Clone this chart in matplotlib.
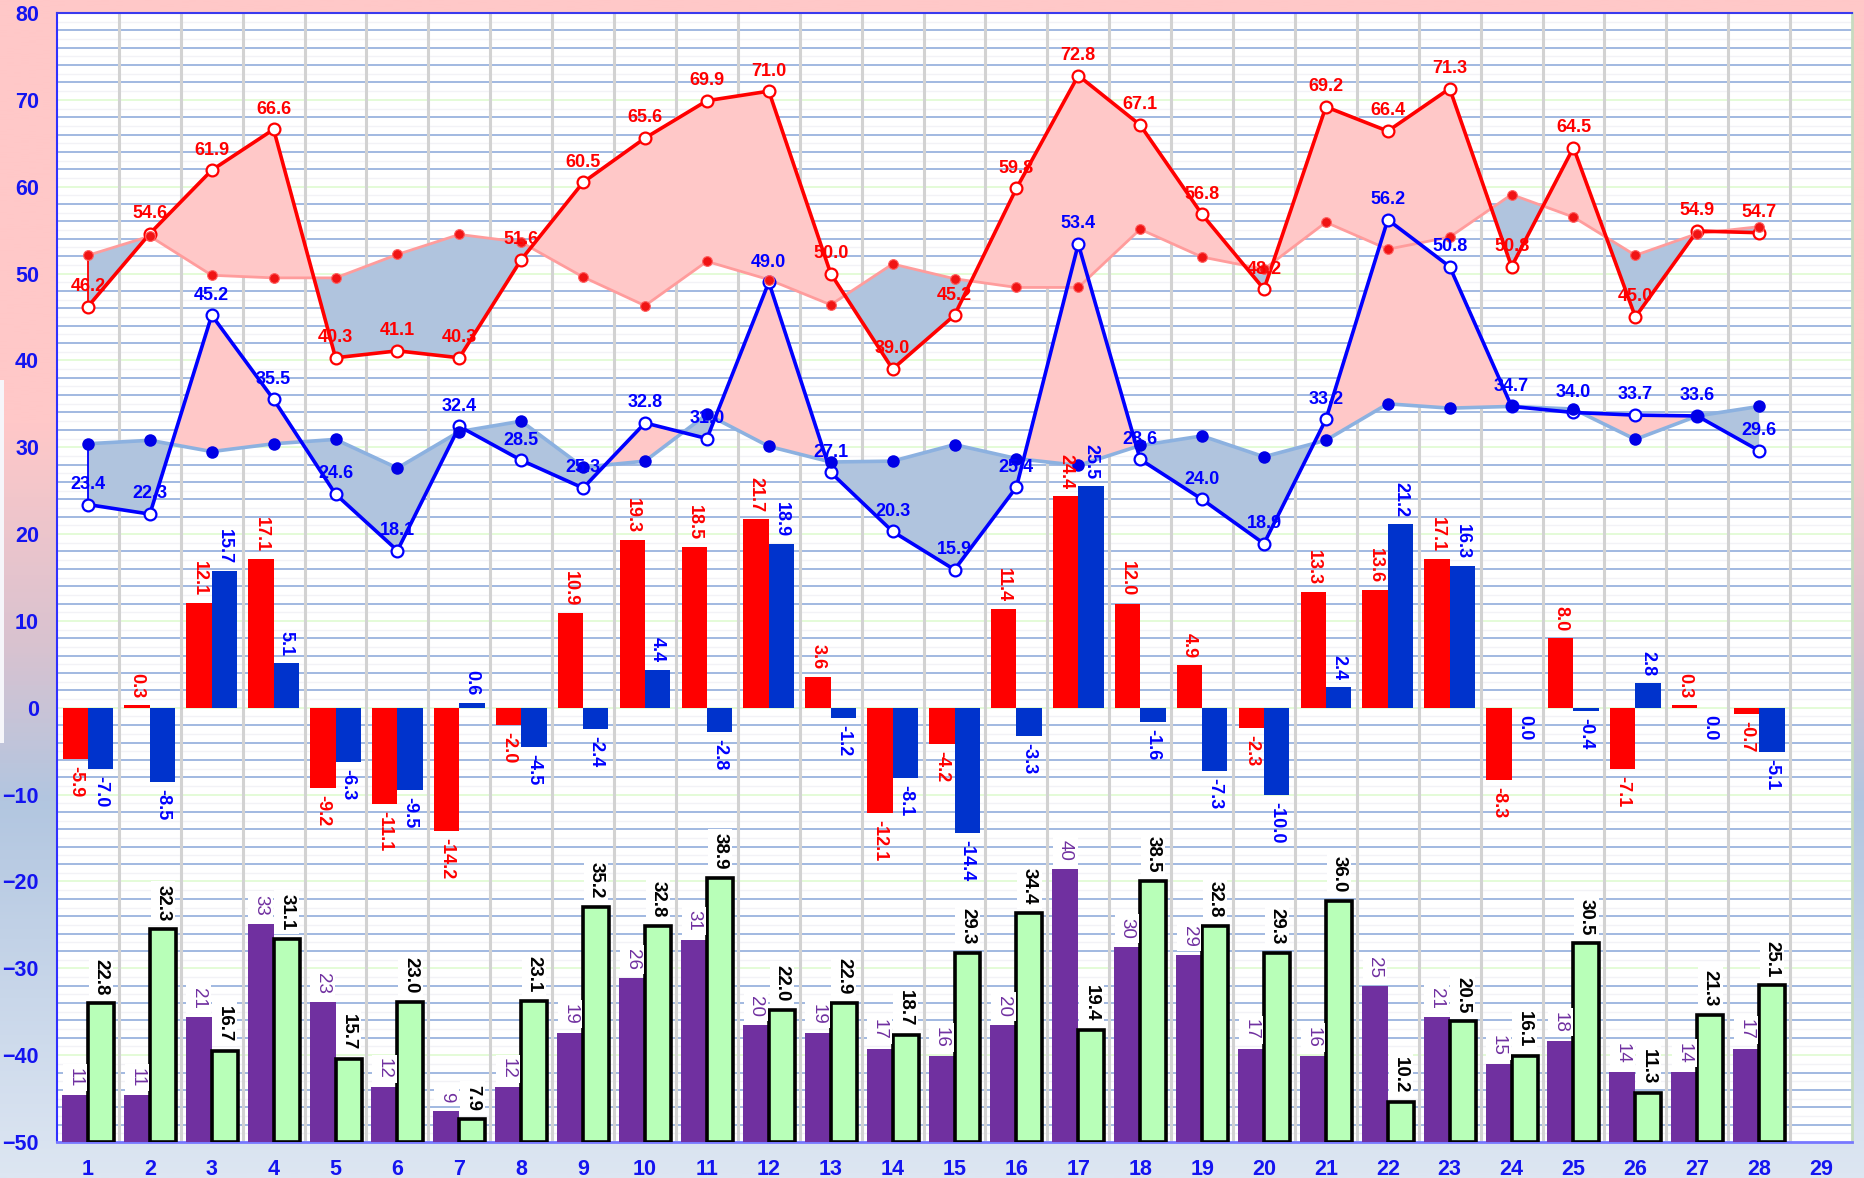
import numpy as np
import matplotlib
matplotlib.use('Agg')
import matplotlib.pyplot as plt
from matplotlib.colors import LinearSegmentedColormap
from matplotlib.patches import Rectangle

plt.rcParams['font.family'] = ['Liberation Sans', 'DejaVu Sans']

# ---------------- data ----------------
days = list(range(1, 29))
xtick_labels = [str(i) for i in range(1, 30)]

high = [46.2, 54.6, 61.9, 66.6, 40.3, 41.1, 40.3, 51.6, 60.5, 65.6, 69.9, 71.0, 50.0, 39.0,
        45.2, 59.8, 72.8, 67.1, 56.8, 48.2, 69.2, 66.4, 71.3, 50.8, 64.5, 45.0, 54.9, 54.7]
norm_high = [52.1, 54.3, 49.8, 49.5, 49.5, 52.2, 54.5, 53.6, 49.6, 46.3, 51.4, 49.3, 46.4, 51.1,
             49.4, 48.4, 48.4, 55.1, 51.9, 50.5, 55.9, 52.8, 54.2, 59.1, 56.5, 52.1, 54.6, 55.4]
low = [23.4, 22.3, 45.2, 35.5, 24.6, 18.1, 32.4, 28.5, 25.3, 32.8, 31.0, 49.0, 27.1, 20.3,
       15.9, 25.4, 53.4, 28.6, 24.0, 18.9, 33.2, 56.2, 50.8, 34.7, 34.0, 33.7, 33.6, 29.6]
norm_low = [30.4, 30.8, 29.5, 30.4, 30.9, 27.6, 31.8, 33.0, 27.7, 28.4, 33.8, 30.1, 28.3, 28.4,
            30.3, 28.7, 27.9, 30.2, 31.3, 28.9, 30.8, 35.0, 34.5, 34.7, 34.4, 30.9, 33.6, 34.7]
dep_high = [-5.9, 0.3, 12.1, 17.1, -9.2, -11.1, -14.2, -2.0, 10.9, 19.3, 18.5, 21.7, 3.6, -12.1,
            -4.2, 11.4, 24.4, 12.0, 4.9, -2.3, 13.3, 13.6, 17.1, -8.3, 8.0, -7.1, 0.3, -0.7]
dep_low = [-7.0, -8.5, 15.7, 5.1, -6.3, -9.5, 0.6, -4.5, -2.4, 4.4, -2.8, 18.9, -1.2, -8.1,
           -14.4, -3.3, 25.5, -1.6, -7.3, -10.0, 2.4, 21.2, 16.3, 0.0, -0.4, 2.8, 0.0, -5.1]
purple_vals = [11, 11, 21, 33, 23, 12, 9, 12, 19, 26, 31, 20, 19, 17,
               16, 20, 40, 30, 29, 17, 16, 25, 21, 15, 18, 14, 14, 17]
green_vals = [22.8, 32.3, 16.7, 31.1, 15.7, 23.0, 7.9, 23.1, 35.2, 32.8, 38.9, 22.0, 22.9, 18.7,
              29.3, 34.4, 19.4, 38.5, 32.8, 29.3, 36.0, 10.2, 20.5, 16.1, 30.5, 11.3, 21.3, 25.1]

# ---------------- styles ----------------
RED = '#ff0000'
BLUE = '#0000ff'
PINK_FILL = '#ffc8c8'
STEEL_FILL = '#b0c4de'
TICK_COLOR = '#1414f0'

W, H = 1864, 1178
fig = plt.figure(figsize=(W / 100, H / 100), dpi=100)

# background gradient
bg = fig.add_axes([0, 0, 1, 1], zorder=-10)
stops = [(0.0, '#ffc8c8'), (0.36, '#ffc8c8'), (0.55, '#d8c2d0'), (0.68, '#b2c6e0'),
         (0.85, '#c9d7ea'), (1.0, '#dde6f2')]
cmap = LinearSegmentedColormap.from_list('bg', stops)
grad = np.linspace(0, 1, 600).reshape(-1, 1)
bg.imshow(grad, aspect='auto', cmap=cmap, extent=[0, 1, 0, 1], origin='upper')
bg.add_patch(Rectangle((0, (H - 743) / H), 4 / W, (743 - 380) / H, color='#f6f6fa', lw=0))
bg.set_xlim(0, 1)
bg.set_ylim(0, 1)
bg.axis('off')

left, right, top, bottom = 57, 1852, 13, 1142
ax = fig.add_axes([left / W, (H - bottom) / H, (right - left) / W, (bottom - top) / H])
ax.set_facecolor('white')
ax.set_xlim(0.5, 29.5)
ax.set_ylim(-50, 80)

# grid
for v in range(-49, 80):
    if v % 10 == 0:
        ax.axhline(v, color='#e2fbd4', lw=1.3, zorder=0.5)
    elif v % 2 == 0:
        ax.axhline(v, color='#9ab3de', lw=1.3, zorder=0.5)
    else:
        ax.axhline(v, color='#f2f2f6', lw=1.0, zorder=0.4)
for xv in np.arange(1.5, 29.5, 1.0):
    ax.axvline(xv, color='#d2d2d2', lw=2.2, zorder=0.6)

x = np.array(days)
hi = np.array(high)
nh = np.array(norm_high)
lo = np.array(low)
nl = np.array(norm_low)

# fills
ax.fill_between(x, hi, nh, where=hi >= nh, interpolate=True, color=PINK_FILL, lw=0, zorder=1)
ax.fill_between(x, hi, nh, where=hi < nh, interpolate=True, color=STEEL_FILL, lw=0, zorder=1)
ax.fill_between(x, lo, nl, where=lo >= nl, interpolate=True, color=PINK_FILL, lw=0, zorder=1)
ax.fill_between(x, lo, nl, where=lo < nl, interpolate=True, color=STEEL_FILL, lw=0, zorder=1)
ax.plot([x[0], x[0]], [hi[0], nh[0]], color=RED, lw=1.3, zorder=3)
ax.plot([x[0], x[0]], [lo[0], nl[0]], color=BLUE, lw=1.3, zorder=3)

# departure bars
bw = 0.41
ax.bar(x - bw / 2, dep_high, width=bw, color=RED, zorder=2, lw=0)
ax.bar(x + bw / 2, dep_low, width=bw, color='#0033cc', zorder=2, lw=0)

# normal lines
ax.plot(x, nh, color='#ff9c9c', lw=2.0, zorder=3)
ax.plot(x, nl, color='#8cb1e0', lw=2.6, zorder=3)
# actual lines
ax.plot(x, hi, color=RED, lw=2.6, marker='o', ms=8.5, mfc='white', mec=RED, mew=1.6, zorder=5)
ax.plot(x, lo, color=BLUE, lw=2.6, marker='o', ms=8.5, mfc='white', mec=BLUE, mew=1.6, zorder=5)
# normal markers on top
ax.plot(x, nh, ls='none', marker='o', ms=7, color='#f01414', mec='#ff6060', mew=0.8, zorder=6)
ax.plot(x, nl, ls='none', marker='o', ms=9, color='#0000e6', mec='none', zorder=6)

# labels on lines
for xi, v in zip(x, hi):
    ax.annotate(f'{v:.1f}', (xi, v), xytext=(0, 14.5), textcoords='offset points',
                ha='center', va='center', color=RED, fontsize=13, fontweight='bold', zorder=8)
for xi, v in zip(x, lo):
    ax.annotate(f'{v:.1f}', (xi, v), xytext=(0, 14.5), textcoords='offset points',
                ha='center', va='center', color=BLUE, fontsize=13, fontweight='bold', zorder=8)

# departure labels
for xi, v in zip(x, dep_high):
    up = v > 0
    ax.annotate(f'{v:.1f}', (xi - bw / 2, v), xytext=(0, 5 if up else -5), textcoords='offset points',
                ha='center', va='bottom' if up else 'top', rotation=-90,
                color=RED, fontsize=13, fontweight='bold', zorder=8)
for xi, v in zip(x, dep_low):
    up = v > 0
    ax.annotate(f'{v:.1f}', (xi + bw / 2, v), xytext=(0, 5 if up else -5), textcoords='offset points',
                ha='center', va='bottom' if up else 'top', rotation=-90,
                color=BLUE, fontsize=13, fontweight='bold', zorder=8)

# ticks
ax.set_xticks(range(1, 30))
ax.set_xticklabels(xtick_labels)
ax.set_yticks(range(-50, 81, 10))
ax.tick_params(length=0)
ax.tick_params(axis='y', pad=13)
ax.tick_params(axis='x', pad=12)
for lab in ax.get_xticklabels() + ax.get_yticklabels():
    lab.set_fontsize(15.5)
    lab.set_fontweight('bold')
    lab.set_color(TICK_COLOR)

ax.spines['left'].set_color('#3030ff')
ax.spines['left'].set_linewidth(1.5)
ax.spines['top'].set_color('#3a3aee')
ax.spines['top'].set_linewidth(1.5)
ax.spines['bottom'].set_color('#7878ff')
ax.spines['bottom'].set_linewidth(2.0)
ax.spines['right'].set_color('#c6dcc0')
ax.spines['right'].set_linewidth(2.0)

# secondary scale for bottom bars
ax2 = ax.twinx()
ax2.set_ylim(5, 150)
ax2.set_yticks([])
for s in ax2.spines.values():
    s.set_visible(False)
pv = np.array(purple_vals, dtype=float)
gv = np.array(green_vals)
bw2 = 0.42
ax2.bar(x - bw2 / 2, pv - 5, bottom=5, width=bw2, color='#7030a0', lw=0, zorder=2)
ax2.bar(x + bw2 / 2, gv - 5, bottom=5, width=bw2, color='#b8ffb8', edgecolor='black', lw=2.6, zorder=3)
for xi, v in zip(x, pv):
    ax2.annotate(f'{int(v)}', (xi - bw2 / 2, v), xytext=(0, 6), textcoords='offset points',
                 ha='center', va='bottom', rotation=-90, color='#7030a0', fontsize=13.5,
                 bbox=dict(boxstyle='square,pad=0.2', fc='white', ec='none'), zorder=8)
for xi, v in zip(x, gv):
    ax2.annotate(f'{v:.1f}', (xi + bw2 / 2, v), xytext=(0, 6), textcoords='offset points',
                 ha='center', va='bottom', rotation=-90, color='black', fontsize=13.5,
                 fontweight='bold',
                 bbox=dict(boxstyle='square,pad=0.2', fc='white', ec='none'), zorder=8)

fig.savefig('out.png', dpi=100)
